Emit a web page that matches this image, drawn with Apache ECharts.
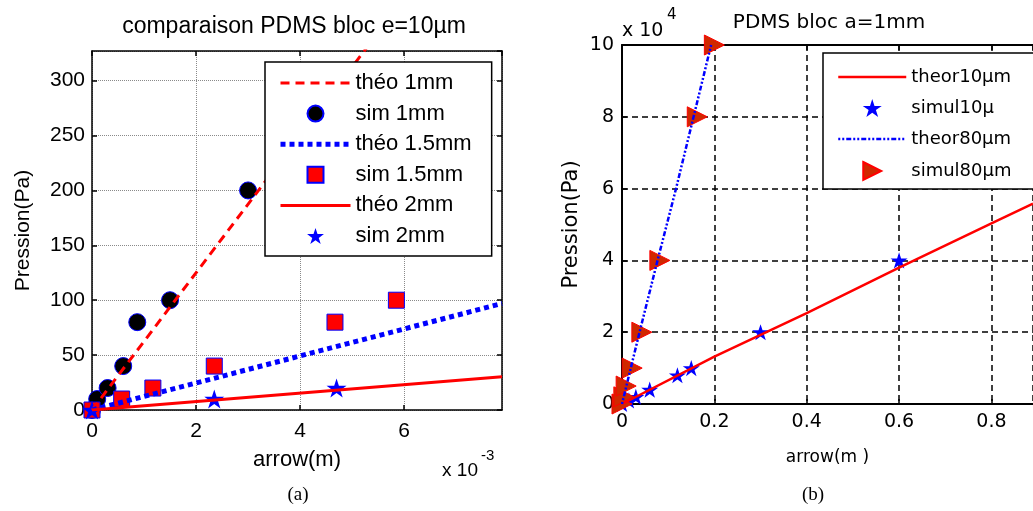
<!DOCTYPE html>
<html>
<head>
<meta charset="utf-8">
<script src="https://cdn.jsdelivr.net/npm/echarts@6/dist/echarts.min.js"></script>
<style>
  html, body { margin: 0; padding: 0; background: #fff; }
  #chart { width: 1033px; height: 511px; }
</style>
</head>
<body>
<div id="chart"></div>
<script>
// ---- (a) comparaison PDMS bloc e=10µm : arrow (m) vs pression (Pa) ----
const theoX_a = [0, 0.00788];
const theo1mmY = [0, 492.5];
const theo15mmY = [0, 97];
const theo2mmY = [0, 30.3];
const sim1mmX = [0, 0.0001, 0.0003, 0.0006, 0.00087, 0.0015, 0.003];
const sim1mmY = [0, 10, 20, 40, 80, 100, 200];
const sim15mmX = [0, 0.00057, 0.00117, 0.00235, 0.00467, 0.00585];
const sim15mmY = [0, 10, 20, 40, 80, 100];
const sim2mmX = [0, 0.00235, 0.0047];
const sim2mmY = [0, 10, 20];
const namesA = ['théo 1mm', 'sim 1mm', 'théo 1.5mm', 'sim 1.5mm', 'théo 2mm', 'sim 2mm'];

// ---- (b) PDMS bloc a=1mm : arrow (m) vs pression (Pa) ----
const theor10X = [0, 0.2, 0.4, 0.6, 0.8, 0.89];
const theor10Y = [0, 13200, 25300, 38000, 50300, 55800];
const simul10X = [0, 0.015, 0.03, 0.06, 0.12, 0.15, 0.3, 0.6];
const simul10Y = [0, 1000, 2000, 4000, 8000, 10000, 20000, 40000];
const theor80X = [0, 0.019, 0.038, 0.077, 0.117, 0.155, 0.193];
const theor80Y = [0, 10000, 20000, 40000, 60000, 80000, 100000];
const simul80X = [0, 0.004, 0.009, 0.022, 0.043, 0.082, 0.163, 0.2];
const simul80Y = [0, 2000, 5000, 10000, 20000, 40000, 80000, 100000];
const namesB = ['theor10µm', 'simul10µ', 'theor80µm', 'simul80µm'];

const zip = (xs, ys) => xs.map((x, i) => [x, ys[i]]);

const FA = "'Liberation Sans', Arial, sans-serif";
const FB = "'DejaVu Sans', Verdana, sans-serif";
const STAR = 'path://M50,2 L61.2,36.4 L97.6,36.4 L68.2,57.6 L79.4,92 L50,70.8 L20.6,92 L31.8,57.6 L2.4,36.4 L38.8,36.4 Z';
const TRI_RIGHT = 'path://M0,0 L10,5 L0,10 Z';
const SQUARE = 'path://M0,0 L10,0 L10,10 L0,10 Z';

// line styles of the theoretical curves, shared by the series and their legend samples
const lineStyles = {
  'théo 1mm':   { color: '#ff0000', width: 3, type: [9, 6] },
  'théo 1.5mm': { color: '#0000ff', width: 5, type: [5, 4] },
  'théo 2mm':   { color: '#ff0000', width: 3, type: 'solid' },
  'theor10µm':  { color: '#ff0000', width: 2.5, type: 'solid' },
  'theor80µm':  { color: '#0000ff', width: 2.5, type: [2, 2, 2, 2, 5, 2] }
};
// legend entries for plain lines: line sample only, no marker
const legendItems = names => names.map(n => lineStyles[n]
  ? { name: n, itemStyle: { opacity: 0 }, lineStyle: Object.assign({}, lineStyles[n]) }
  : { name: n });

const chart = echarts.init(document.getElementById('chart'));

// box-style axes: ticks inside, black frame
function boxAxis(extra) {
  return Object.assign({
    type: 'value',
    axisLine: { show: true, onZero: false, lineStyle: { color: '#000', width: 1.5 } },
    axisTick: { show: true, inside: true, length: 5, lineStyle: { color: '#000', width: 1.5 } },
    axisLabel: { show: false },
    splitLine: { show: false }
  }, extra);
}

const gridA = { left: 92, top: 51, width: 410, height: 359 };
const gridB = { left: 622, top: 45, width: 415, height: 359 };

const splitA = { show: true, lineStyle: { color: '#8a8a8a', width: 1, type: [1, 1] } };
const splitB = { show: true, lineStyle: { color: '#000', width: 1.5, type: [6, 4] } };

function theoLine(name, xi, yi, xs, ys) {
  return { name, type: 'line', xAxisIndex: xi, yAxisIndex: yi, data: zip(xs, ys),
           symbol: 'none', clip: true, color: lineStyles[name].color,
           lineStyle: Object.assign({}, lineStyles[name]) };
}

chart.setOption({
  animation: false,
  backgroundColor: '#fff',
  grid: [gridA, gridB],
  xAxis: [
    boxAxis({
      gridIndex: 0, position: 'bottom', min: 0, max: 0.00788, interval: 0.002,
      axisLabel: { show: true, color: '#000', fontFamily: FA, fontSize: 21, margin: 11, showMaxLabel: false,
                   formatter: v => String(Math.round(v * 1000)) },
      splitLine: splitA,
      name: 'arrow(m)', nameLocation: 'middle', nameGap: 39,
      nameTextStyle: { color: '#000', fontFamily: FA, fontSize: 22 }
    }),
    boxAxis({ gridIndex: 0, position: 'top', min: 0, max: 0.00788, interval: 0.002 }),
    boxAxis({
      gridIndex: 1, position: 'bottom', min: 0, max: 0.89, interval: 0.2,
      axisLine: { show: true, onZero: false, lineStyle: { color: '#000', width: 2 } },
      axisLabel: { show: true, color: '#000', fontFamily: FB, fontSize: 19, margin: 9, showMaxLabel: false,
                   formatter: v => (v === 0 ? '0' : v.toFixed(1)) },
      splitLine: splitB,
      name: 'arrow(m )', nameLocation: 'middle', nameGap: 45,
      nameTextStyle: { color: '#000', fontFamily: FB, fontSize: 17 }
    }),
    boxAxis({ gridIndex: 1, position: 'top', min: 0, max: 0.89, interval: 0.2,
              axisLine: { show: true, onZero: false, lineStyle: { color: '#000', width: 2 } } })
  ],
  yAxis: [
    boxAxis({
      gridIndex: 0, position: 'left', min: 0, max: 327, interval: 50,
      axisLabel: { show: true, color: '#000', fontFamily: FA, fontSize: 21, margin: 7, showMaxLabel: false },
      splitLine: splitA,
      name: 'Pression(Pa)', nameLocation: 'middle', nameGap: 58,
      nameTextStyle: { color: '#000', fontFamily: FA, fontSize: 21 }
    }),
    boxAxis({ gridIndex: 0, position: 'right', min: 0, max: 327, interval: 50 }),
    boxAxis({
      gridIndex: 1, position: 'left', min: 0, max: 100000, interval: 20000,
      axisLine: { show: true, onZero: false, lineStyle: { color: '#000', width: 2 } },
      axisLabel: { show: true, color: '#000', fontFamily: FB, fontSize: 19, margin: 8,
                   formatter: v => String(v / 10000) },
      splitLine: splitB,
      name: 'Pression(Pa)', nameLocation: 'middle', nameGap: 40,
      nameTextStyle: { color: '#000', fontFamily: FB, fontSize: 21 }
    })
  ],
  legend: [
    {
      data: legendItems(namesA), orient: 'vertical', left: 265, top: 62, selectedMode: false,
      itemWidth: 70, itemHeight: 16, itemGap: 8.6, itemTextGap: 9,
      padding: [10, 20, 9, 13],
      backgroundColor: '#fff', borderColor: '#000', borderWidth: 1.5, borderRadius: 0,
      textStyle: { color: '#000', fontFamily: FA, fontSize: 22 }
    },
    {
      data: legendItems(namesB), orient: 'vertical', left: 823, top: 53, selectedMode: false,
      itemWidth: 68, itemHeight: 18, itemGap: 13, itemTextGap: 8,
      padding: [15, 30, 8, 14],
      backgroundColor: '#fff', borderColor: '#000', borderWidth: 1.5, borderRadius: 0,
      textStyle: { color: '#000', fontFamily: FB, fontSize: 18 }
    }
  ],
  series: [
    // (a)
    theoLine('théo 1mm', 0, 0, theoX_a, theo1mmY),
    { name: 'sim 1mm', type: 'scatter', xAxisIndex: 0, yAxisIndex: 0, data: zip(sim1mmX, sim1mmY),
      symbol: 'circle', symbolSize: 17, clip: false,
      itemStyle: { color: '#000', borderColor: '#0000ff', borderWidth: 1, opacity: 1 } },
    theoLine('théo 1.5mm', 0, 0, theoX_a, theo15mmY),
    { name: 'sim 1.5mm', type: 'scatter', xAxisIndex: 0, yAxisIndex: 0, data: zip(sim15mmX, sim15mmY),
      symbol: SQUARE, symbolSize: 16, symbolKeepAspect: true, clip: false,
      itemStyle: { color: '#ff0000', borderColor: '#0000ff', borderWidth: 1, opacity: 1 } },
    theoLine('théo 2mm', 0, 0, theoX_a, theo2mmY),
    { name: 'sim 2mm', type: 'scatter', xAxisIndex: 0, yAxisIndex: 0, data: zip(sim2mmX, sim2mmY),
      symbol: STAR, symbolSize: 20, symbolKeepAspect: true, clip: false,
      itemStyle: { color: '#0000ff', opacity: 1 } },
    // (b)
    theoLine('theor10µm', 2, 2, theor10X, theor10Y),
    { name: 'simul10µ', type: 'scatter', xAxisIndex: 2, yAxisIndex: 2, data: zip(simul10X, simul10Y),
      symbol: STAR, symbolSize: 17, symbolKeepAspect: true, clip: false,
      itemStyle: { color: '#0000ff', opacity: 1 } },
    theoLine('theor80µm', 2, 2, theor80X, theor80Y),
    { name: 'simul80µm', type: 'scatter', xAxisIndex: 2, yAxisIndex: 2, data: zip(simul80X, simul80Y),
      symbol: TRI_RIGHT, symbolSize: 20, symbolKeepAspect: true, clip: false,
      itemStyle: { color: '#d02800', borderColor: '#ff0000', borderWidth: 1, opacity: 1 } }
  ],
  graphic: [
    { type: 'text', x: 294, y: 27, style: { text: 'comparaison PDMS bloc e=10µm', fill: '#000', font: '23px ' + FA, align: 'center', verticalAlign: 'middle' } },
    { type: 'text', x: 478, y: 471, style: { text: 'x 10', fill: '#000', font: '19px ' + FA, align: 'right', verticalAlign: 'middle' } },
    { type: 'text', x: 481, y: 456, style: { text: '-3', fill: '#000', font: '15px ' + FA, align: 'left', verticalAlign: 'middle' } },
    { type: 'text', x: 298, y: 495, style: { text: '(a)', fill: '#000', font: '19px "Liberation Serif", "Times New Roman", serif', align: 'center', verticalAlign: 'middle' } },
    { type: 'text', x: 829, y: 23, style: { text: 'PDMS bloc a=1mm', fill: '#000', font: '20px ' + FB, align: 'center', verticalAlign: 'middle' } },
    { type: 'text', x: 622, y: 31, style: { text: 'x 10', fill: '#000', font: '19px ' + FB, align: 'left', verticalAlign: 'middle' } },
    { type: 'text', x: 667, y: 15, style: { text: '4', fill: '#000', font: '15px ' + FB, align: 'left', verticalAlign: 'middle' } },
    { type: 'text', x: 813, y: 495, style: { text: '(b)', fill: '#000', font: '19px "Liberation Serif", "Times New Roman", serif', align: 'center', verticalAlign: 'middle' } }
  ]
});
</script>
</body>
</html>
